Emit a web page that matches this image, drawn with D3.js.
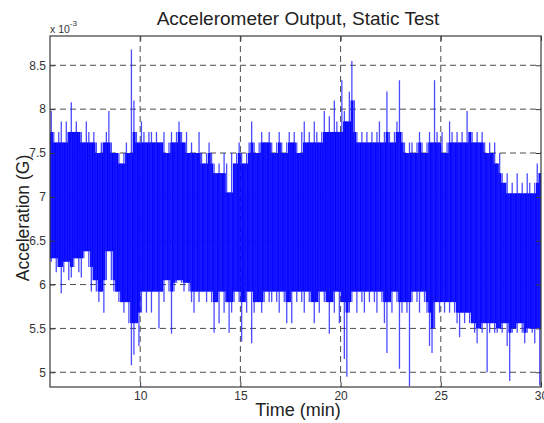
<!DOCTYPE html>
<html>
<head>
<meta charset="utf-8">
<script src="https://cdn.jsdelivr.net/npm/d3@7"></script>
<style>
  body { margin: 0; background: #fff; }
  svg { display: block; font-family: "Liberation Sans", Arial, sans-serif; }
</style>
</head>
<body>
<div id="chart"></div>
<script>
// Sample grid (min): one bin per tStep, max and min of the trace in each bin
const tStart = 5.5;
const tStep = 0.125;

// Upper envelope per bin (x 10^-3 G)
const hiVals = [
  7.98, 7.74, 7.62, 7.74, 7.86, 7.62, 7.86, 7.74,
  8.08, 7.74, 7.86, 7.74, 7.74, 7.62, 7.86, 7.74,
  7.62, 7.74, 7.62, 7.5, 7.62, 7.62, 7.74, 7.98,
  7.62, 7.5, 7.5, 7.5, 7.38, 7.5, 7.62, 7.5,
  8.68, 8.1, 7.74, 7.62, 7.86, 7.74, 7.62, 7.74,
  7.74, 7.62, 7.74, 7.62, 7.62, 7.74, 7.5, 7.62,
  7.74, 7.62, 7.74, 7.86, 7.74, 7.62, 7.74, 7.5,
  7.62, 7.5, 7.5, 7.74, 7.5, 7.38, 7.5, 7.62,
  7.5, 7.38, 7.27, 7.38, 7.27, 7.5, 7.38, 7.05,
  7.5, 7.38, 7.5, 7.62, 7.5, 7.38, 7.5, 7.62,
  7.86, 7.62, 7.5, 7.62, 7.74, 7.62, 7.62, 7.74,
  7.62, 7.5, 7.62, 7.74, 7.62, 7.5, 7.62, 7.74,
  7.62, 7.74, 7.62, 7.5, 7.74, 7.86, 7.62, 7.74,
  7.62, 7.86, 7.74, 7.62, 7.74, 7.98, 7.74, 7.92,
  7.74, 8.1, 7.86, 7.74, 8.33, 7.98, 7.86, 8.2,
  8.55, 8.1, 7.74, 7.62, 7.74, 7.62, 7.74, 7.62,
  7.74, 7.62, 7.74, 7.86, 7.62, 7.74, 8.2, 7.74,
  7.62, 7.74, 7.86, 8.33, 7.74, 7.62, 7.5, 7.62,
  7.62, 7.5, 7.62, 7.74, 7.62, 7.5, 7.62, 7.74,
  7.62, 8.33, 7.74, 7.62, 7.74, 7.5, 7.62, 7.86,
  7.74, 7.62, 7.74, 7.62, 7.74, 7.62, 7.98, 7.74,
  7.74, 7.62, 7.74, 7.62, 7.74, 7.62, 7.5, 7.62,
  7.5, 7.62, 7.38, 7.5, 7.27, 7.16, 7.27, 7.04,
  7.16, 7.04, 7.27, 7.04, 7.16, 7.04, 7.27, 7.16,
  7.04, 7.16, 7.38, 7.27
];

// Lower envelope per bin (x 10^-3 G)
const loVals = [
  6.26, 6.3, 6.14, 6.2, 5.9, 6.14, 6.26, 6.05,
  6.08, 6.2, 6.3, 6.14, 6.08, 6.3, 6.38, 6.2,
  5.92, 6.05, 5.92, 5.8, 5.92, 5.68, 6.05, 6.38,
  6.05, 5.92, 5.92, 5.8, 5.8, 5.68, 5.8, 5.56,
  5.08, 5.2, 5.56, 5.3, 5.68, 5.92, 5.68, 5.92,
  5.68, 5.92, 5.92, 5.5, 5.92, 5.8, 6.05, 5.92,
  5.44, 5.92, 6.02, 6.05, 6.02, 5.92, 6.02, 5.92,
  5.8, 5.68, 5.92, 5.8, 5.92, 5.92, 5.8, 5.92,
  5.8, 5.45, 5.8, 5.56, 5.92, 5.68, 5.8, 5.45,
  5.68, 5.8, 5.92, 5.8, 5.35, 5.8, 5.68, 5.92,
  5.33, 5.68, 5.8, 5.8, 5.68, 5.8, 5.92, 5.8,
  5.8, 5.92, 5.8, 5.68, 5.92, 5.8, 5.56, 5.8,
  5.56, 5.92, 5.8, 5.92, 5.8, 5.68, 5.92, 5.8,
  5.8, 5.56, 5.8, 5.68, 5.92, 5.8, 5.8, 5.44,
  5.8, 5.68, 5.92, 5.56, 5.8, 5.15, 4.95, 5.68,
  5.8, 5.92, 5.68, 5.92, 5.8, 5.68, 5.92, 5.8,
  5.92, 5.8, 5.68, 5.92, 5.8, 5.56, 5.22, 5.8,
  5.68, 5.92, 5.8, 5.04, 5.68, 5.8, 5.68, 4.84,
  5.8, 5.92, 5.8, 5.68, 5.92, 5.8, 5.68, 5.3,
  5.22, 5.5, 5.8, 5.68, 5.8, 5.68, 5.8, 5.68,
  5.8, 5.68, 5.56, 5.4, 5.68, 5.56, 5.68, 5.56,
  5.56, 5.45, 5.33, 5.5, 5.45, 5.56, 5.0, 5.45,
  5.56, 5.45, 5.45, 5.5, 5.45, 5.56, 5.3, 4.9,
  5.45, 5.5, 5.45, 5.56, 5.45, 5.33, 5.45, 5.5,
  5.45, 5.33, 5.5, 4.85
];

// Axes
const xDomain = [5.5, 30];
const yDomain = [4.832, 8.834];
const xTicks = [10, 15, 20, 25, 30];
const yTicks = [5, 5.5, 6, 6.5, 7, 7.5, 8, 8.5];

const width = 544;
const height = 423;
const plot = { left: 50, top: 36, right: 541, bottom: 387 };

const svg = d3.create("svg")
  .attr("width", width)
  .attr("height", height);

const x = d3.scaleLinear().domain(xDomain).range([plot.left, plot.right]);
const y = d3.scaleLinear().domain(yDomain).range([plot.bottom, plot.top]);

svg.append("defs").append("clipPath")
  .attr("id", "clip")
  .append("rect")
  .attr("x", plot.left)
  .attr("y", plot.top)
  .attr("width", plot.right - plot.left)
  .attr("height", plot.bottom - plot.top);

// Dashed grid, under the data
const grid = svg.append("g")
  .attr("stroke", "#4d4d4d")
  .attr("stroke-width", 1)
  .attr("stroke-dasharray", "6,4");

grid.selectAll("line.gx")
  .data(xTicks.filter(d => d < xDomain[1]))
  .join("line")
  .attr("class", "gx")
  .attr("x1", d => x(d))
  .attr("x2", d => x(d))
  .attr("y1", plot.top)
  .attr("y2", plot.bottom);

grid.selectAll("line.gy")
  .data(yTicks)
  .join("line")
  .attr("class", "gy")
  .attr("x1", plot.left)
  .attr("x2", plot.right)
  .attr("y1", d => y(d))
  .attr("y2", d => y(d));

// Bins; the dense core of each bin is where its neighbours overlap too
const n = hiVals.length;
const bins = hiVals.map((h, i) => {
  const a = Math.max(0, i - 1), b = Math.min(n - 1, i + 1);
  return {
    t: tStart + i * tStep,
    hi: h,
    lo: loVals[i],
    coreHi: Math.min(hiVals[a], h, hiVals[b]),
    coreLo: Math.max(loVals[a], loVals[i], loVals[b])
  };
});
const colW = x(tStart + tStep) - x(tStart);

const trace = svg.append("g").attr("clip-path", "url(#clip)");

// Solid core columns
trace.selectAll("rect")
  .data(bins)
  .join("rect")
  .attr("x", d => x(d.t))
  .attr("width", colW + 0.4)
  .attr("y", d => y(d.coreHi))
  .attr("height", d => y(d.coreLo) - y(d.coreHi))
  .attr("fill", "#0000ff");

// Thin excursions out to the bin max and min
trace.selectAll("line.spike")
  .data(bins)
  .join("line")
  .attr("class", "spike")
  .attr("x1", d => x(d.t + tStep / 2))
  .attr("x2", d => x(d.t + tStep / 2))
  .attr("y1", d => y(d.hi))
  .attr("y2", d => y(d.lo))
  .attr("stroke", "#1f1fff")
  .attr("stroke-opacity", 0.8)
  .attr("stroke-width", 1.3);

// Box and inward ticks on all four sides
const axisColor = "#3a3a3a";
const tickLen = 5;

const xAxisB = d3.axisBottom(x).tickValues(xTicks).tickSizeInner(-tickLen).tickSizeOuter(0).tickPadding(4);
const xAxisT = d3.axisTop(x).tickValues(xTicks).tickSizeInner(-tickLen).tickSizeOuter(0).tickFormat("");
const yAxisL = d3.axisLeft(y).tickValues(yTicks).tickSizeInner(-tickLen).tickSizeOuter(0).tickPadding(4).tickFormat(d3.format("~g"));
const yAxisR = d3.axisRight(y).tickValues(yTicks).tickSizeInner(-tickLen).tickSizeOuter(0).tickFormat("");

function styleAxis(g) {
  g.select(".domain").remove();
  g.selectAll(".tick line").attr("stroke", axisColor);
  g.selectAll(".tick text")
    .attr("fill", "#333")
    .style("font-size", "12px")
    .style("font-family", "'Liberation Sans', Arial, sans-serif");
}

svg.append("g").attr("transform", `translate(0,${plot.bottom})`).call(xAxisB).call(styleAxis);
svg.append("g").attr("transform", `translate(0,${plot.top})`).call(xAxisT).call(styleAxis);
svg.append("g").attr("transform", `translate(${plot.left},0)`).call(yAxisL).call(styleAxis);
svg.append("g").attr("transform", `translate(${plot.right},0)`).call(yAxisR).call(styleAxis);

svg.append("rect")
  .attr("x", plot.left)
  .attr("y", plot.top)
  .attr("width", plot.right - plot.left)
  .attr("height", plot.bottom - plot.top)
  .attr("fill", "none")
  .attr("stroke", axisColor)
  .attr("stroke-width", 1.2);

// Exponent label
const expo = svg.append("text")
  .attr("x", plot.left)
  .attr("y", 33)
  .attr("fill", "#333")
  .style("font-size", "10.5px");
expo.append("tspan").text("x 10");
expo.append("tspan")
  .attr("dy", -7)
  .style("font-size", "8px")
  .text("-3");

// Title and axis labels
svg.append("text")
  .attr("x", 298)
  .attr("y", 25)
  .attr("text-anchor", "middle")
  .attr("fill", "#222")
  .style("font-size", "19px")
  .text("Accelerometer Output, Static Test");

svg.append("text")
  .attr("x", 298)
  .attr("y", 416)
  .attr("text-anchor", "middle")
  .attr("fill", "#222")
  .style("font-size", "18px")
  .text("Time (min)");

svg.append("text")
  .attr("transform", "translate(29,218) rotate(-90)")
  .attr("text-anchor", "middle")
  .attr("fill", "#222")
  .style("font-size", "17.5px")
  .text("Acceleration (G)");

d3.select("#chart").node().appendChild(svg.node());
</script>
</body>
</html>
